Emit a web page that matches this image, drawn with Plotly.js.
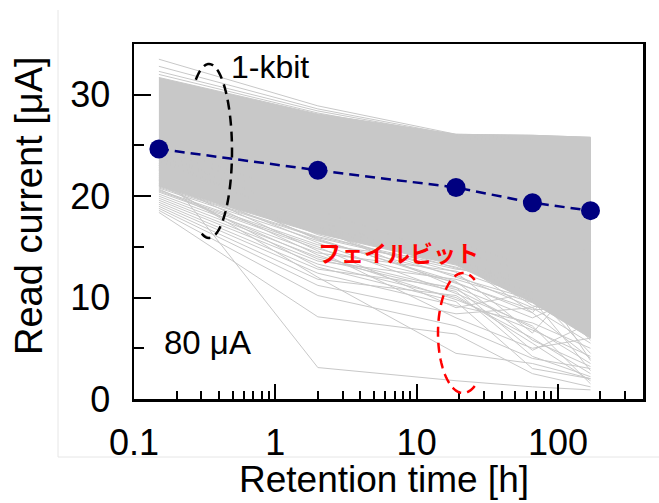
<!DOCTYPE html>
<html><head><meta charset="utf-8">
<script src="https://cdn.plot.ly/plotly-3.0.1.min.js"></script>
<style>html,body{margin:0;padding:0;background:#fff}#chart{width:659px;height:503px}</style>
</head><body><div id="chart"></div>
<script>
// ---- data ----
const retentionTimes = [0.15, 2, 19, 66, 170];          // h
const meanCurrent    = [24.65, 22.55, 20.85, 19.35, 18.57]; // µA
// dense core of the 1-kbit bundle (upper / lower envelope)
const coreUpper = [31.7, 28.1, 26.1, 26.0, 25.8];
const coreLower = [21.0, 16.3, 13.2, 9.5, 6.0];
// individual bits outside / at the edge of the core
const bitTop1 = [33.5, 28.9, 26.1, 26.0, 25.8];
const bitTop2 = [32.8, 28.6, 26.0, 25.9, 25.6];
const bitTop3 = [32.3, 28.4, 25.9, 25.8, 25.4];
const bitTop4 = [32.0, 28.2, 25.7, 25.6, 25.2];
const bitLow01 = [21.0, 16.0, 13.0, 10.5, 8.0];
const bitLow02 = [20.8, 15.6, 12.2, 9.0, 5.5];
const bitLow03 = [20.6, 15.2, 13.5, 11.0, 9.5];
const bitLow04 = [20.4, 14.8, 11.5, 8.5, 4.0];
const bitLow05 = [20.2, 14.4, 12.6, 10.0, 7.0];
const bitLow06 = [20.0, 14.0, 10.8, 7.0, 3.5];
const bitLow07 = [19.8, 13.6, 11.8, 9.5, 6.5];
const bitLow08 = [19.6, 13.3, 10.0, 6.0, 2.5];
const bitLow09 = [19.4, 12.8, 11.0, 8.0, 10.5];
const bitLow10 = [19.2, 12.4, 9.2, 7.5, 5.0];
const bitLow11 = [19.0, 11.8, 10.2, 5.5, 1.8];
const bitLow12 = [18.8, 11.2, 8.4, 9.0, 12.0];
const bitLow13 = [18.6, 10.2, 7.2, 4.0, 3.0];
const bitLow14 = [18.4, 8.1, 6.4, 2.5, 1.2];
const bitLow15 = [23.0, 3.1, 1.8, 1.2, 0.9];
const bitLow16 = [21.5, 12.0, 4.5, 3.5, 2.0];
const bitLow17 = [22.0, 14.6, 8.0, 5.0, 6.0];
const bitLow18 = [21.2, 13.0, 9.6, 3.0, 2.0];
const bitLow19 = [20.9, 15.9, 12.8, 12.0, 11.0];
const bitLow20 = [20.5, 15.0, 9.0, 10.5, 4.5];
const bitLow21 = [22.5, 16.2, 12.5, 6.5, 13.0];
const bitLow22 = [23.5, 17.0, 13.8, 8.5, 15.5];
const bitLow23 = [24.0, 18.0, 14.5, 12.5, 3.8];
const bitLow24 = [25.0, 19.5, 15.5, 13.0, 8.8];
const bitLow25 = [22.8, 16.8, 11.0, 4.8, 7.5];
const bitLow26 = [21.8, 15.4, 10.4, 7.2, 1.5];
const bitLow27 = [23.2, 16.6, 12.0, 9.8, 2.8];
const bitLow28 = [24.4, 17.5, 13.6, 11.5, 5.8];
const bitLow29 = [22.2, 15.8, 11.4, 8.8, 9.0];
const bitLow30 = [21.6, 14.2, 9.8, 6.8, 4.2];
const bitLow31 = [20.7, 13.8, 10.6, 4.2, 2.2];
const bitLow32 = [23.8, 16.9, 12.9, 11.2, 14.0];
const bitLow33 = [22.6, 15.7, 11.6, 5.8, 3.2];
const bitLow34 = [24.8, 18.6, 14.0, 9.2, 7.8];
const bitLines = [bitTop1, bitTop2, bitTop3, bitTop4,
  bitLow01, bitLow02, bitLow03, bitLow04, bitLow05, bitLow06, bitLow07, bitLow08,
  bitLow09, bitLow10, bitLow11, bitLow12, bitLow13, bitLow14, bitLow15, bitLow16,
  bitLow17, bitLow18, bitLow19, bitLow20, bitLow21, bitLow22, bitLow23, bitLow24,
  bitLow25, bitLow26, bitLow27, bitLow28, bitLow29, bitLow30, bitLow31, bitLow32,
  bitLow33, bitLow34];

const xTickVals = [0.1, 1, 10, 100];
const xTickText = ['0.1', '1', '10', '100'];
const xMinorVals = [0.2,0.3,0.4,0.5,0.6,0.7,0.8,0.9,2,3,4,5,6,7,8,9,20,30,40,50,60,70,80,90,200,300];
const yTickVals = [0, 10, 20, 30];
const yTickText = ['0', '10', '20', '30'];
const yMinorVals = [5, 15, 25];

// ---- geometry helpers for decorations (pixel -> paper) ----
const W = 659, H = 503, ML = 134, MR = 16, MT = 44, MB = 104;
const PW = W - ML - MR, PH = H - MT - MB;
const px2x = p => (p - ML) / PW;
const px2y = p => (H - MB - p) / PH;
function arcPath(cx, cy, rx, ry, t0, t1) {
  let d = '';
  const n = 80;
  for (let i = 0; i <= n; i++) {
    const t = (t0 + (t1 - t0) * i / n) * Math.PI / 180;
    const x = px2x(cx + rx * Math.cos(t));
    const y = px2y(cy + ry * Math.sin(t));
    d += (i === 0 ? 'M' : 'L') + x.toFixed(5) + ',' + y.toFixed(5);
  }
  return d;
}

const GRAY = '#c8c8c8';
const traces = [];
traces.push({
  x: retentionTimes.concat(retentionTimes.slice().reverse()),
  y: coreUpper.concat(coreLower.slice().reverse()),
  type: 'scatter', mode: 'lines', fill: 'toself', fillcolor: GRAY,
  line: {color: GRAY, width: 1}, hoverinfo: 'skip', showlegend: false
});
bitLines.forEach(v => traces.push({
  x: retentionTimes, y: v, type: 'scatter', mode: 'lines',
  line: {color: GRAY, width: 1}, hoverinfo: 'skip', showlegend: false
}));
traces.push({
  x: retentionTimes, y: meanCurrent, type: 'scatter', mode: 'lines+markers',
  line: {color: '#000080', width: 2.5, dash: '10px,6px'},
  marker: {color: '#000080', size: 19}, showlegend: false
});

const FONT = 'Arial, "Liberation Sans", Helvetica, sans-serif';
const layout = {
  width: W, height: H,
  margin: {l: ML, r: MR, t: MT, b: MB, pad: 0},
  paper_bgcolor: '#fff', plot_bgcolor: '#fff',
  showlegend: false,
  font: {family: FONT, color: '#000'},
  xaxis: {
    type: 'log', range: [-1, Math.log10(400)],
    showline: true, linecolor: '#000', linewidth: 2.5, mirror: true,
    showgrid: false, zeroline: false,
    ticks: 'inside', ticklen: 15, tickwidth: 2, tickcolor: '#000',
    tickmode: 'array', tickvals: xTickVals, ticktext: xTickText,
    tickfont: {family: FONT, size: 36, color: '#000'},
    ticklabelstandoff: 10,
    minor: {tickmode: 'array', tickvals: xMinorVals, ticks: 'inside', ticklen: 8, tickwidth: 2, tickcolor: '#000', showgrid: false}
  },
  yaxis: {
    range: [0, 35],
    showline: true, linecolor: '#000', linewidth: 2.5, mirror: true,
    showgrid: false, zeroline: false,
    ticks: 'inside', ticklen: 17, tickwidth: 2, tickcolor: '#000',
    tickmode: 'array', tickvals: yTickVals, ticktext: yTickText,
    tickfont: {family: FONT, size: 36, color: '#000'},
    ticklabelstandoff: 14,
    minor: {tickmode: 'array', tickvals: yMinorVals, ticks: 'inside', ticklen: 10, tickwidth: 2, tickcolor: '#000', showgrid: false}
  },
  annotations: [
    {text: 'Read current [μA]', xref: 'paper', yref: 'paper', x: px2x(29), y: px2y(206),
     xanchor: 'center', yanchor: 'middle', textangle: -90, showarrow: false,
     font: {family: FONT, size: 38, color: '#000'}},
    {text: 'Retention time [h]', xref: 'paper', yref: 'paper', x: px2x(384), y: px2y(480),
     xanchor: 'center', yanchor: 'middle', showarrow: false,
     font: {family: FONT, size: 37, color: '#000'}},
    {text: '1-kbit', xref: 'paper', yref: 'paper', x: px2x(270), y: px2y(67),
     xanchor: 'center', yanchor: 'middle', showarrow: false,
     font: {family: FONT, size: 32, color: '#000'}},
    {text: '80 μA', xref: 'paper', yref: 'paper', x: px2x(207.5), y: px2y(342),
     xanchor: 'center', yanchor: 'middle', showarrow: false,
     font: {family: FONT, size: 33, color: '#000'}},
    {text: '<b>フェイルビット</b>', xref: 'paper', yref: 'paper', x: px2x(398), y: px2y(252),
     xanchor: 'center', yanchor: 'middle', showarrow: false,
     font: {family: '"Noto Sans CJK JP", sans-serif', size: 23, color: '#ff0000'}}
  ],
  shapes: [
    {type: 'line', xref: 'paper', yref: 'paper', x0: px2x(58), x1: px2x(58), y0: px2y(10), y1: px2y(457),
     line: {color: '#e6e6e6', width: 1}, layer: 'below'},
    {type: 'line', xref: 'paper', yref: 'paper', x0: px2x(58), x1: px2x(659), y0: px2y(457), y1: px2y(457),
     line: {color: '#e6e6e6', width: 1}, layer: 'below'},
    {type: 'path', xref: 'paper', yref: 'paper', path: arcPath(209, 151, 23, 87, -125, 112),
     line: {color: '#000', width: 2.5, dash: '10px,6px'}},
    {type: 'path', xref: 'paper', yref: 'paper', path: arcPath(463, 333, 25, 60, 62, 298),
     line: {color: '#ff0000', width: 2.5, dash: '10px,6px'}}
  ]
};
Plotly.newPlot('chart', traces, layout, {staticPlot: true, displayModeBar: false});
</script>
</body></html>
